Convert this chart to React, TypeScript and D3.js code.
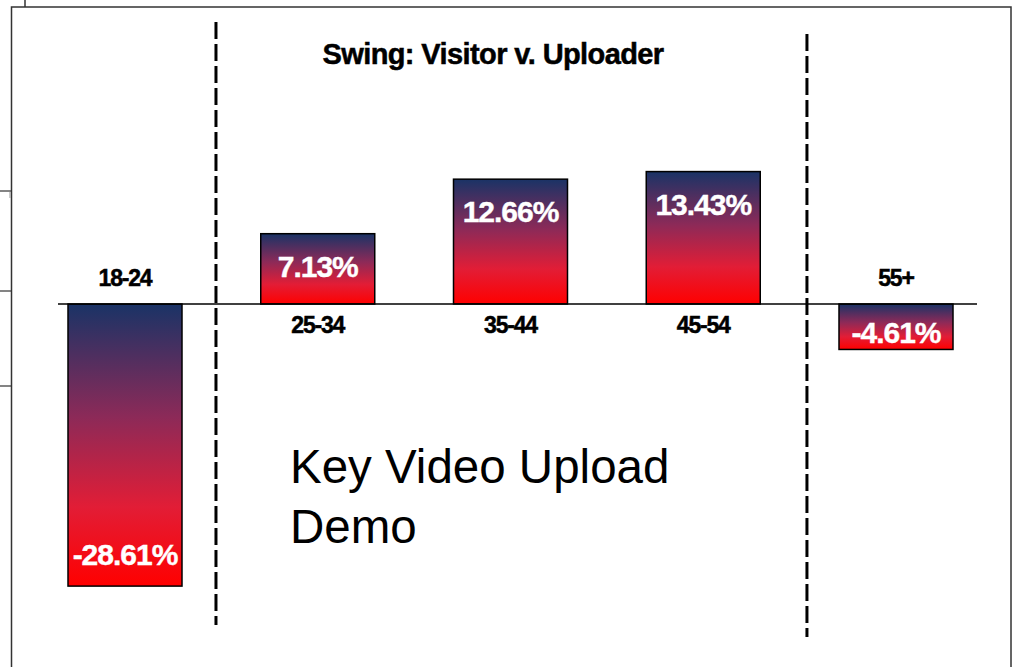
import React from "react";
import * as d3 from "d3";

const categories = ["18-24", "25-34", "35-44", "45-54", "55+"];
const swingValues = [-28.61, 7.13, 12.66, 13.43, -4.61];
const valueLabels = ["-28.61%", "7.13%", "12.66%", "13.43%", "-4.61%"];
const chartTitle = "Swing: Visitor v. Uploader";
const noteLines = ["Key Video Upload", "Demo"];
// divider positions, in category-index units
const dividerPositions = [0.472, 3.538];

const W = 1019;
const H = 667;
const FONT = "Arial, 'Liberation Sans', Helvetica, sans-serif";

export default function App() {
  const x = d3.scalePoint<string>().domain(categories).range([125, 896]);
  const xIdx = d3.scaleLinear().domain([0, categories.length - 1]).range([125, 896]);
  const y = d3.scaleLinear().domain([-30, 15]).range([304 + 30 * 9.86, 304 - 15 * 9.86]);
  const barW = 114;
  const y0 = y(0);

  const dividerExtents = [
    [22, 625],
    [34, 637],
  ];

  return (
    <svg
      width={W}
      height={H}
      style={{ position: "fixed", top: 0, left: 0, background: "#fff" }}
    >
      <defs>
        <linearGradient id="barGrad" x1="0" y1="0" x2="0" y2="1">
          <stop offset="0%" stopColor="#1a3366" />
          <stop offset="40%" stopColor="#8c2a58" />
          <stop offset="72%" stopColor="#e21d36" />
          <stop offset="100%" stopColor="#ff0000" />
        </linearGradient>
      </defs>

      {/* background frame fragments */}
      <rect x={11.5} y={7} width={999.5} height={700} fill="#fff" stroke="#333" strokeWidth={1.5} />
      <line x1={25} y1={0} x2={25} y2={7} stroke="#333" strokeWidth={1.5} />
      <line x1={0} y1={191} x2={11} y2={191} stroke="#333" strokeWidth={1.2} />
      <line x1={0} y1={291} x2={11} y2={291} stroke="#333" strokeWidth={1.2} />
      <line x1={0} y1={386} x2={11} y2={386} stroke="#333" strokeWidth={1.2} />
      <line x1={10} y1={192} x2={10} y2={198} stroke="#999" strokeWidth={1} />

      {/* dashed dividers */}
      {dividerPositions.map((p, i) => (
        <line
          key={"d" + i}
          x1={xIdx(p)}
          x2={xIdx(p)}
          y1={dividerExtents[i][0]}
          y2={dividerExtents[i][1]}
          stroke="#000"
          strokeWidth={3}
          strokeDasharray="17 5"
        />
      ))}

      {/* title */}
      <text
        x={493}
        y={64}
        textAnchor="middle"
        fontFamily={FONT}
        fontWeight="bold"
        fontSize={29}
        letterSpacing={-0.6}
        fill="#000"
        stroke="#000"
        strokeWidth={0.5}
      >
        {chartTitle}
      </text>

      {/* bars */}
      {categories.map((c, i) => {
        const v = swingValues[i];
        const top = Math.min(y(v), y0);
        const bottom = Math.max(y(v), y0);
        const cx = x(c)!;
        return (
          <rect
            key={"b" + c}
            x={cx - barW / 2}
            y={top}
            width={barW}
            height={bottom - top}
            fill="url(#barGrad)"
            stroke="#000"
            strokeWidth={1.5}
          />
        );
      })}

      {/* baseline */}
      <line x1={58} x2={977} y1={y0} y2={y0} stroke="#000" strokeWidth={1.5} />

      {/* value labels */}
      {categories.map((c, i) => {
        const v = swingValues[i];
        const top = Math.min(y(v), y0);
        const bottom = Math.max(y(v), y0);
        const ty = v >= 0 ? top + 43 : Math.max(top + 39, bottom - 21);
        return (
          <text
            key={"v" + c}
            x={x(c)!}
            y={ty}
            textAnchor="middle"
            fontFamily={FONT}
            fontWeight="bold"
            fontSize={30}
            letterSpacing={-1}
            fill="#fff"
            stroke="#fff"
            strokeWidth={0.4}
          >
            {valueLabels[i]}
          </text>
        );
      })}

      {/* category labels */}
      {categories.map((c, i) => {
        const v = swingValues[i];
        const ty = v >= 0 ? y0 + 29 : y0 - 18;
        return (
          <text
            key={"c" + c}
            x={x(c)!}
            y={ty}
            textAnchor="middle"
            fontFamily={FONT}
            fontWeight="bold"
            fontSize={23}
            letterSpacing={-1.2}
            fill="#000"
            stroke="#000"
            strokeWidth={0.5}
          >
            {c}
          </text>
        );
      })}

      {/* note */}
      {noteLines.map((t, i) => (
        <text
          key={"n" + i}
          x={290}
          y={483 + i * 60}
          fontFamily={FONT}
          fontSize={47.5}
          fill="#000"
        >
          {t}
        </text>
      ))}
    </svg>
  );
}
